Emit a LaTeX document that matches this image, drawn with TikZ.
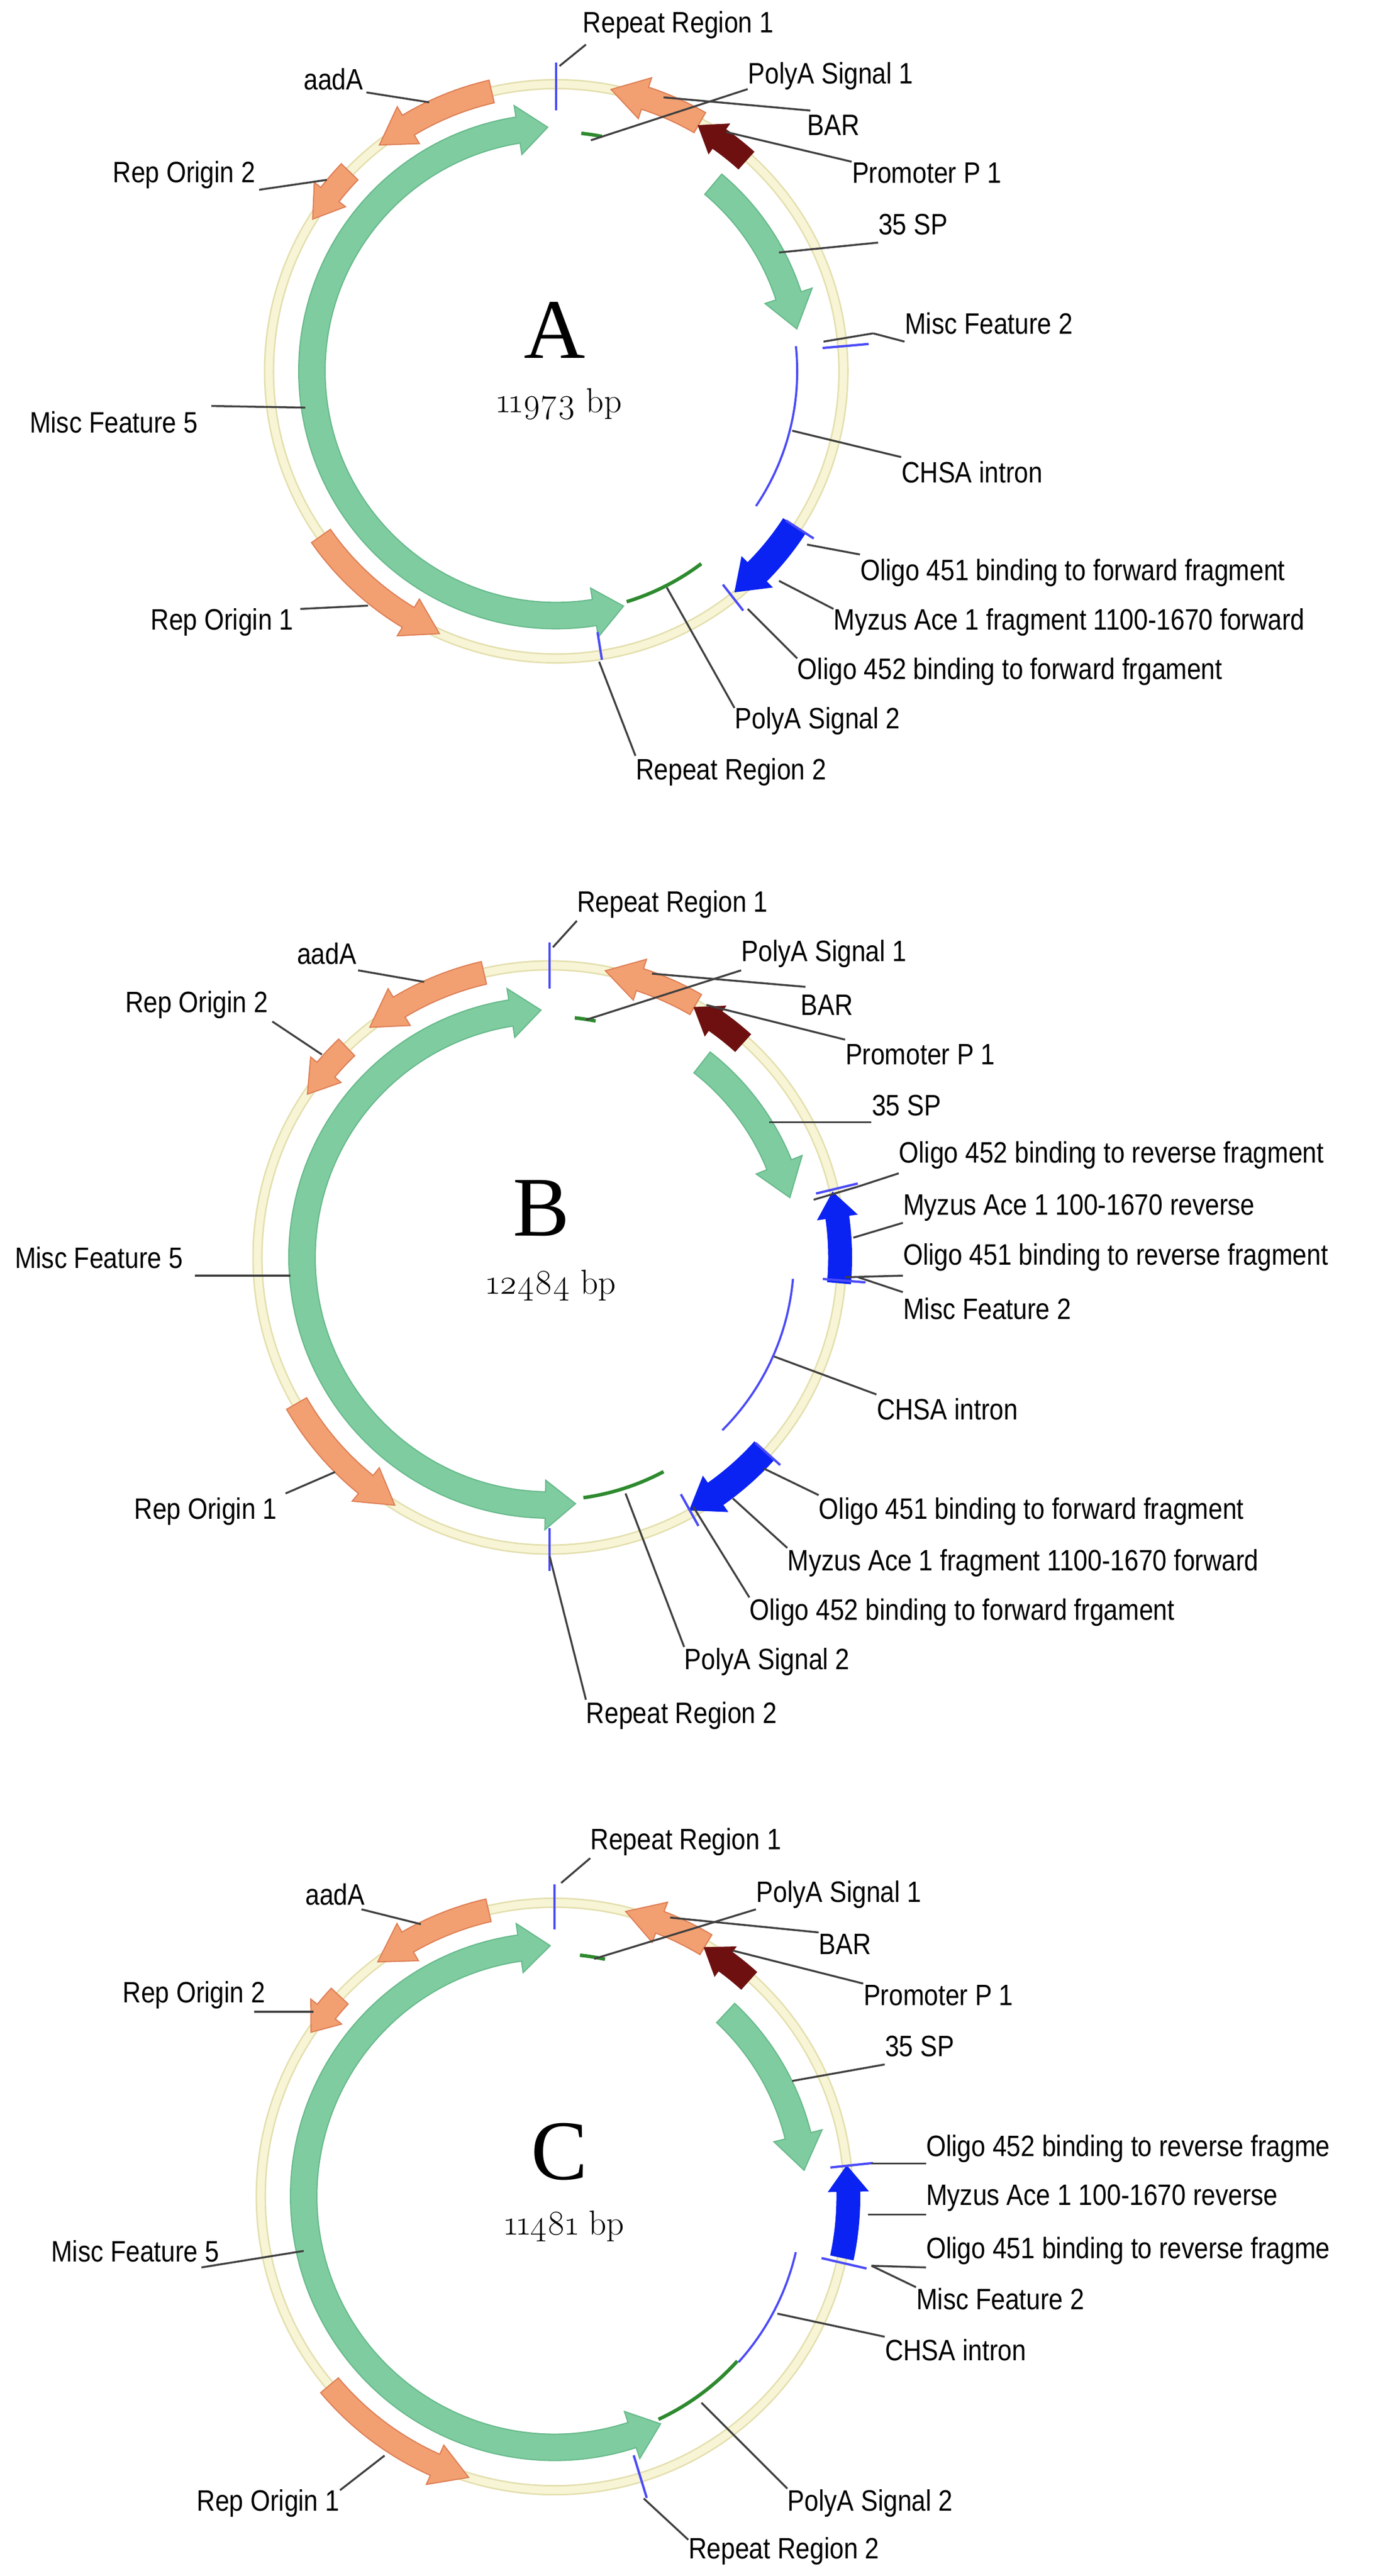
\documentclass[tikz,border=0pt]{standalone}
\usepackage{fontspec}
\setsansfont{Liberation Sans}[FakeStretch=0.86]
\newfontfamily\ttlfont{Liberation Serif}
\newfontfamily\bpfont{Latin Modern Roman}[Numbers=OldStyle]
\definecolor{ringc}{HTML}{F7F5D6}
\definecolor{ringe}{HTML}{E4DFAE}
\definecolor{orf}{HTML}{F2A072}
\definecolor{ore}{HTML}{DE7E55}
\definecolor{grf}{HTML}{7FCCA0}
\definecolor{gre}{HTML}{66B98A}
\definecolor{brn}{HTML}{6E1010}
\definecolor{blu}{HTML}{0A22F2}
\definecolor{thinb}{HTML}{4A4AF8}
\definecolor{dgr}{HTML}{2E8A2E}
\definecolor{lead}{HTML}{404040}
\tikzset{
 orange/.style={fill=orf,draw=ore,line width=0.6pt},
 green/.style={fill=grf,draw=gre,line width=0.6pt},
 brown/.style={fill=brn,draw=brn,line width=0.4pt},
 bluearr/.style={fill=blu,draw=blu,line width=0.4pt},
 thinblue/.style={draw=thinb,line width=1.1pt},
 tick/.style={draw=thinb,line width=1.2pt},
 dgreen/.style={draw=dgr,line width=1.8pt},
 lbl/.style={font=\sffamily\fontsize{15.3}{17}\selectfont,inner sep=0pt,text=black},
 ldr/.style={draw=lead,line width=1pt},
 ttl/.style={font=\ttlfont\fontsize{44}{44}\selectfont,inner sep=0pt},
 bp/.style={font=\bpfont\fontsize{18}{20}\selectfont,inner sep=0pt,text=black},
}
\newcommand\parr[7]{%
 \pgfmathsetmacro\hHa{#6-(#7)}\pgfmathsetmacro\rOo{#2+#3}\pgfmathsetmacro\rIi{#2-#3}%
 \pgfmathsetmacro\rHo{#2+#4}\pgfmathsetmacro\rHi{#2-#4}%
 \filldraw[#1] (#5:\rOo) arc[start angle=#5,end angle=\hHa,radius=\rOo] -- (\hHa:\rHo) -- (#6:#2) -- (\hHa:\rHi) -- (\hHa:\rIi) arc[start angle=\hHa,end angle=#5,radius=\rIi] -- cycle;}
\newcommand\dparr[7]{%
 \pgfmathsetmacro\hA{#5+#7}\pgfmathsetmacro\hB{#6-#7}\pgfmathsetmacro\rOo{#2+#3}\pgfmathsetmacro\rIi{#2-#3}%
 \pgfmathsetmacro\rHo{#2+#4}\pgfmathsetmacro\rHi{#2-#4}%
 \filldraw[#1] (#5:#2) -- (\hA:\rHo) -- (\hA:\rOo) arc[start angle=\hA,end angle=\hB,radius=\rOo] -- (\hB:\rHo) -- (#6:#2) -- (\hB:\rHi) -- (\hB:\rIi) arc[start angle=\hB,end angle=\hA,radius=\rIi] -- (\hA:\rHi) -- cycle;}
\newcommand\tarc[4]{\draw[#1] (#3:#2) arc[start angle=#3,end angle=#4,radius=#2];}
\newcommand\rtick[3]{\draw[tick] (#1:#2) -- (#1:#3);}
\newcommand\ring[1]{\draw[ringe,line width=5.4pt] (0,0) circle[radius=#1];\draw[ringc,line width=3.8pt] (0,0) circle[radius=#1];}
\newcommand\lab[6]{\node[lbl,anchor=#2] (#1) at (#3) {#4};
 \coordinate (#1s) at (#5); \coordinate (#1e) at (#6); \draw[ldr] (#1s) -- (#1e);}
\begin{document}
\begin{tikzpicture}[x=0.030059cm,y=-0.030059cm]
\useasboundingbox[fill=white] (0,0) rectangle (845,1561);
%================ A
\begin{scope}[shift={(337,225)},yscale=-1]
\ring{174}
\dparr{green}{148}{8}{15}{92}{286}{7}
\parr{green}{148}{8}{15}{50}{10}{-8}
\tarc{dgreen}{145}{84}{79}
\tarc{dgreen}{146}{-73}{-53}
\tarc{thinblue}{146}{6}{-34}
\parr{orange}{174}{7}{13}{103}{128}{7}
\parr{orange}{174}{7}{12}{136}{148}{6}
\parr{orange}{174}{7}{13}{60}{79}{7}
\parr{brown}{172}{7}{11}{48}{60}{5}
\parr{orange}{174}{7}{13}{215}{246}{7}
\parr{bluearr}{172}{8}{13}{-33}{-51}{-6}
\rtick{90}{158}{187}
\rtick{-81}{160}{177}
\rtick{5}{162}{190}
\rtick{-33}{166}{186}
\rtick{-52}{164}{184}
\end{scope}
\node[ttl] (tA) at (336,200) {A};
\node[bp] (bA) at (339,245) {11973 bp};
\lab{a1}{west}{353,15}{Repeat Region 1}{355,27}{339,40}
\lab{a2}{center}{202,48}{aadA}{222,56}{260,62}
\lab{a3}{west}{453,46}{PolyA Signal 1}{453,54}{358,85}
\lab{a4}{center}{505,76}{BAR}{491,67}{402,59}
\lab{a5}{west}{516,105}{Promoter P 1}{516,98}{440,80}
\lab{a6}{west}{532,136}{35 SP}{532,147}{472,153}
\lab{a7}{west}{548,196}{Misc Feature 2}{548,207}{529,202}
\coordinate (a7f) at (499,207); \draw[ldr] (a7e) -- (a7f);
\lab{a8}{west}{546,286}{CHSA intron}{546,277}{480,261}
\lab{a9}{west}{521,347}{Oligo 451 binding to forward fragment}{521,336}{489,330}
\lab{a10}{west}{505,377}{Myzus Ace 1 fragment 1100-1670 forward}{505,369}{472,352}
\lab{a11}{west}{483,407}{Oligo 452 binding to forward frgament}{483,399}{453,369}
\lab{a12}{west}{445,437}{PolyA Signal 2}{445,429}{404,356}
\lab{a13}{west}{385,468}{Repeat Region 2}{385,458}{363,401}
\lab{a14}{east}{178,377}{Rep Origin 1}{182,369}{223,367}
\lab{a15}{east}{120,256}{Misc Feature 5}{128,246}{185,247}
\lab{a16}{east}{155,106}{Rep Origin 2}{157,115}{198,109}
%================ B
\begin{scope}[shift={(333,762)},yscale=-1]
\ring{177}
\dparr{green}{150}{8}{15}{92}{276}{7}
\parr{green}{150}{8}{15}{52}{14}{-8}
\tarc{dgreen}{146}{84}{79}
\tarc{dgreen}{147}{-82}{-62}
\tarc{thinblue}{148}{-5}{-45}
\parr{orange}{177}{7}{13}{103}{128}{7}
\parr{orange}{177}{7}{12}{134}{146}{6}
\parr{orange}{177}{7}{13}{60}{79}{7}
\parr{brown}{175}{7}{11}{48}{60}{5}
\parr{orange}{177}{7}{13}{210}{238}{7}
\parr{bluearr}{175}{8}{13}{-42}{-61}{-6}
\parr{bluearr}{176}{7}{12}{-5}{13}{5}
\rtick{90}{163}{191}
\rtick{-90}{164}{190}
\rtick{13.5}{166}{192}
\rtick{-4.5}{166}{192}
\rtick{-42}{168}{188}
\rtick{-61}{164}{186}
\end{scope}
\node[ttl] (tB) at (328,732) {B};
\node[bp] (bB) at (334,779) {12484 bp};
\lab{b1}{west}{349.5,548}{Repeat Region 1}{349.5,558}{335,574}
\lab{b2}{center}{198,578}{aadA}{217,588}{257,595}
\lab{b3}{west}{449,578}{PolyA Signal 1}{449,588}{355,618}
\lab{b4}{center}{501,609}{BAR}{488,598}{395,590}
\lab{b5}{west}{512,639}{Promoter P 1}{512,630}{428,609}
\lab{b6}{west}{528,670}{35 SP}{528,680}{466,680}
\lab{b7}{west}{544.5,700}{Oligo 452 binding to reverse fragment}{544.5,711}{520,719}
\coordinate (b7f) at (493,727); \draw[ldr] (b7e) -- (b7f);
\lab{b8}{west}{547,732}{Myzus Ace 1 100-1670 reverse}{547,741}{517,750}
\lab{b9}{west}{547,762}{Oligo 451 binding to reverse fragment}{547,773}{512,774}
\lab{b10}{west}{547,793}{Misc Feature 2}{547,783}{520,774}
\lab{b11}{west}{531,854}{CHSA intron}{531,845}{469,822}
\lab{b12}{west}{496,916}{Oligo 451 binding to forward fragment}{496,906}{463,890}
\lab{b13}{west}{477,947}{Myzus Ace 1 fragment 1100-1670 forward}{477,938}{444,908}
\lab{b14}{west}{454,977}{Oligo 452 binding to forward frgament}{454,968}{420,913}
\lab{b15}{west}{414.5,1007}{PolyA Signal 2}{414.5,998}{379,905}
\lab{b16}{west}{355,1039.5}{Repeat Region 2}{355,1030}{333,943}
\lab{b17}{east}{168,916}{Rep Origin 1}{173,905}{203,892}
\lab{b18}{east}{111,762}{Misc Feature 5}{118,773}{176,773}
\lab{b19}{east}{162.5,609}{Rep Origin 2}{165,619}{195,639}
%================ C
\begin{scope}[shift={(336,1331)},yscale=-1]
\ring{178}
\dparr{green}{152}{8}{15}{91}{295}{7}
\parr{green}{152}{8}{15}{47}{6}{-8}
\tarc{dgreen}{147}{84}{78}
\tarc{dgreen}{149}{-42}{-65}
\tarc{thinblue}{150}{-13}{-42}
\parr{orange}{178}{7}{13}{103}{127}{7}
\parr{orange}{178}{7}{12}{137}{146}{5}
\parr{orange}{178}{7}{13}{59}{76}{7}
\parr{brown}{176}{7}{11}{48}{59}{5}
\parr{orange}{178}{7}{13}{220}{253}{7}
\parr{bluearr}{178}{7}{12}{-12}{6}{5}
\rtick{90}{162}{189}
\rtick{-73}{164}{191}
\rtick{6}{168}{194}
\rtick{-13}{166}{194}
\end{scope}
\node[ttl] (tC) at (339,1304) {C};
\node[bp] (bC) at (342,1349) {11481 bp};
\lab{c1}{west}{357.6,1116}{Repeat Region 1}{357.6,1126}{340,1141}
\lab{c2}{center}{203,1148}{aadA}{219,1157}{255,1166}
\lab{c3}{west}{458,1148}{PolyA Signal 1}{458,1157}{360,1187}
\lab{c4}{center}{512,1178}{BAR}{496,1171}{406,1162}
\lab{c5}{west}{523,1209}{Promoter P 1}{523,1202}{444,1182}
\lab{c6}{west}{536,1240}{35 SP}{536,1251}{480,1261}
\lab{c7}{west}{561,1302}{Oligo 452 binding to reverse fragme}{561,1311}{528,1311}
\lab{c8}{west}{561,1332}{Myzus Ace 1 100-1670 reverse}{561,1342}{526,1342}
\lab{c9}{west}{561,1364}{Oligo 451 binding to reverse fragme}{561,1374}{528,1373}
\lab{c10}{west}{555,1393}{Misc Feature 2}{555,1386}{528,1373}
\lab{c11}{west}{536,1424}{CHSA intron}{536,1416}{471,1402}
\lab{c12}{west}{477,1517}{PolyA Signal 2}{477,1508}{425,1456}
\lab{c13}{west}{417,1546}{Repeat Region 2}{417,1539}{390,1514}
\lab{c14}{center}{162.5,1517}{Rep Origin 1}{206,1509}{233,1488}
\lab{c15}{east}{133,1364}{Misc Feature 5}{122,1374}{184,1364}
\lab{c16}{east}{161,1209}{Rep Origin 2}{154,1219}{190,1219}
\end{tikzpicture}
\end{document}
